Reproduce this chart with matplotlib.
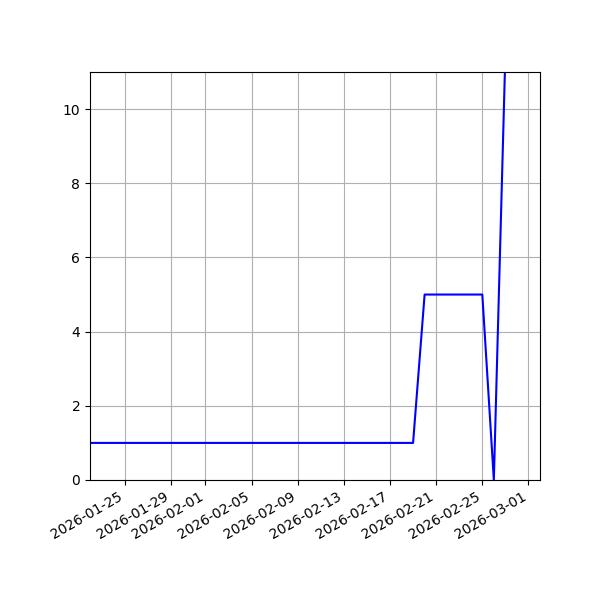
import pandas as pd
import matplotlib
matplotlib.use("Agg")
import matplotlib.pyplot as plt

# daily values
dates = pd.date_range("2026-01-22", "2026-02-27", freq="D")
values = [1] * 29 + [5] * 6 + [0, 11.5]

fig, ax = plt.subplots(figsize=(6, 6), dpi=100)
ax.plot(dates, values, color="blue")
ax.set_xlim(pd.Timestamp("2026-01-22"), pd.Timestamp("2026-03-02"))
ax.set_ylim(0, 11)
ax.grid(True)
fig.autofmt_xdate()
fig.subplots_adjust(left=0.15)
fig.savefig("out.png")
